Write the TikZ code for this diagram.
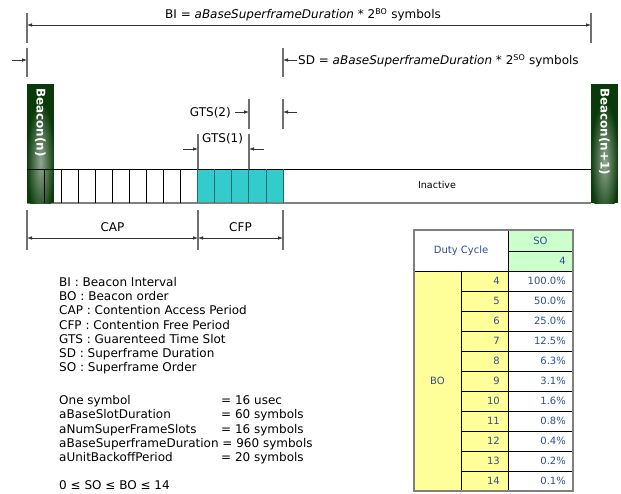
\documentclass[tikz,border=0pt]{standalone}
\usepackage{fontspec}
\setmainfont{DejaVu Sans}
\usetikzlibrary{arrows.meta}
\definecolor{tickgray}{HTML}{707070}
\definecolor{arrowgray}{HTML}{333333}
\definecolor{beacondark}{HTML}{0A3A0A}
\definecolor{beaconglow}{HTML}{8FA88F}
\definecolor{cfpcyan}{HTML}{33CCCC}
\definecolor{cfpedge}{HTML}{1E6E6E}
\definecolor{tabyellow}{HTML}{FFFF99}
\definecolor{tabgreen}{HTML}{CCFFCC}
\definecolor{tabblue}{HTML}{2F4F8F}
\definecolor{tabline}{HTML}{808080}
\tikzset{
  tickline/.style={draw=tickgray, line width=1.1pt},
  dimboth/.style={draw=arrowgray, line width=0.8pt, {Latex[length=5pt,width=3.6pt]}-{Latex[length=5pt,width=3.6pt]}},
  dimone/.style={draw=arrowgray, line width=0.8pt, -{Latex[length=5pt,width=3.6pt]}},
  lbl/.style={inner sep=0pt, anchor=base, text=black},
  legend/.style={inner sep=0pt, anchor=base west, text=black},
  beacontxt/.style={inner sep=0pt, rotate=-90, anchor=west, text=white, font=\fontsize{12}{14}\selectfont\bfseries},
  tabtxt/.style={inner sep=0pt, text=tabblue, font=\fontsize{10}{12}\selectfont},
  slotline/.style={draw=black, line width=0.7pt},
}
\begin{document}
\begin{tikzpicture}[x=1pt,y=-1pt,font=\fontsize{12}{14}\selectfont]
\useasboundingbox[fill=white] (0,0) rectangle (621,493);

% ---------------- top dimension (BI) ----------------
\coordinate (biLt) at (27,13);  \coordinate (biLb) at (27,43);
\coordinate (biRt) at (591,13); \coordinate (biRb) at (591,43);
\draw[tickline] (biLt) -- (biLb);
\draw[tickline] (biRt) -- (biRb);
\coordinate (biA) at (27,25); \coordinate (biB) at (591,25);
\draw[dimboth] (biA) -- (biB);
\node[lbl, anchor=base west] (bitext) at (165,18.5) {BI = \textit{aBaseSuperframeDuration} * 2\textsuperscript{BO} symbols};

% ---------------- SD dimension ----------------
\coordinate (sdLt) at (27,48);  \coordinate (sdLb) at (27,77);
\coordinate (sdRt) at (283,48); \coordinate (sdRb) at (283,77);
\draw[tickline] (sdLt) -- (sdLb);
\draw[tickline] (sdRt) -- (sdRb);
\coordinate (sdA0) at (12,60);  \coordinate (sdA1) at (27,60);
\coordinate (sdB0) at (297,60); \coordinate (sdB1) at (283,60);
\draw[dimone] (sdA0) -- (sdA1);
\draw[dimone] (sdB0) -- (sdB1);
\node[lbl, anchor=base west] (sdtext) at (298,64.5) {SD = \textit{aBaseSuperframeDuration} * 2\textsuperscript{SO} symbols};

% ---------------- GTS(2) ----------------
\coordinate (g2Lt) at (249,99);  \coordinate (g2Lb) at (249,129);
\coordinate (g2Rt) at (283,99);  \coordinate (g2Rb) at (283,129);
\draw[tickline] (g2Lt) -- (g2Lb);
\draw[tickline] (g2Rt) -- (g2Rb);
\coordinate (g2A0) at (235,112); \coordinate (g2A1) at (249,112);
\coordinate (g2B0) at (297,112); \coordinate (g2B1) at (283,112);
\draw[dimone] (g2A0) -- (g2A1);
\draw[dimone] (g2B0) -- (g2B1);
\node[lbl, anchor=base east] (gts2) at (231,116.5) {GTS(2)};

% ---------------- GTS(1) ----------------
\coordinate (g1Lt) at (198,134);  \coordinate (g1Lb) at (198,169);
\coordinate (g1Rt) at (249,134);  \coordinate (g1Rb) at (249,169);
\draw[tickline] (g1Lt) -- (g1Lb);
\draw[tickline] (g1Rt) -- (g1Rb);
\coordinate (g1A0) at (183,149); \coordinate (g1A1) at (198,149);
\coordinate (g1B0) at (264,149); \coordinate (g1B1) at (249,149);
\draw[dimone] (g1A0) -- (g1A1);
\draw[dimone] (g1B0) -- (g1B1);
\node[lbl, anchor=base west] (gts1) at (202,142.5) {GTS(1)};

% ---------------- slot row ----------------
\pgfmathsetmacro{\sw}{256/15}
\fill[cfpcyan] ({27+10*\sw},169) rectangle (283,203);
\draw[line width=0.8pt, draw=black] (27,169) -- (591,169);
\draw[line width=1.2pt, draw=tabline] (27,203) -- (591,203);
\foreach \k in {1,...,15}{
  \pgfmathsetmacro{\xx}{27+\k*\sw}
  \ifnum\k>9
    \draw[draw=cfpedge, line width=0.8pt] (\xx,169) -- (\xx,203);
  \else
    \draw[slotline] (\xx,169) -- (\xx,203);
  \fi
}
\node[inner sep=0pt, anchor=base, font=\fontsize{9.5}{11}\selectfont] (inactive) at (437,188.5) {Inactive};

% ---------------- beacons ----------------
\fill[beacondark] (27,84) rectangle (54,203);
\begin{scope}
  \clip (27,84) rectangle (54,203);
  \shade[inner color=beaconglow, outer color=beacondark] (40.5,162) ellipse (14 and 60);
\end{scope}
\draw[slotline] ({27+\sw},169) -- ({27+\sw},203);
\draw[line width=0.8pt, draw=black] (27,169) -- (54,169);
\node[beacontxt] (beaconn) at (40.5,88) {Beacon(n)};

\fill[beacondark] (591,84) rectangle (618,203);
\begin{scope}
  \clip (591,84) rectangle (618,203);
  \shade[inner color=beaconglow, outer color=beacondark] (604.5,162) ellipse (14 and 60);
\end{scope}
\node[beacontxt] (beaconn1) at (604.5,88) {Beacon(n+1)};

% ---------------- CAP / CFP dimension ----------------
\coordinate (c0t) at (27,210);  \coordinate (c0b) at (27,250);
\coordinate (c1t) at (198,210); \coordinate (c1b) at (198,250);
\coordinate (c2t) at (283,210); \coordinate (c2b) at (283,250);
\draw[tickline] (c0t) -- (c0b);
\draw[tickline] (c1t) -- (c1b);
\draw[tickline] (c2t) -- (c2b);
\coordinate (capA) at (27,238);  \coordinate (capB) at (198,238);
\coordinate (cfpB) at (283,238);
\draw[dimboth] (capA) -- (capB);
\draw[dimboth] (capB) -- (cfpB);
\node[lbl] (cap) at (112.5,231.5) {CAP};
\node[lbl] (cfp) at (240.5,231.5) {CFP};

% ---------------- legend ----------------
\node[legend] (l1) at (59,286.5) {BI : Beacon Interval};
\node[legend] (l2) at (59,300.7) {BO : Beacon order};
\node[legend] (l3) at (59,314.9) {CAP : Contention Access Period};
\node[legend] (l4) at (59,329.1) {CFP : Contention Free Period};
\node[legend] (l5) at (59,343.3) {GTS : Guarenteed Time Slot};
\node[legend] (l6) at (59,357.5) {SD : Superframe Duration};
\node[legend] (l7) at (59,371.7) {SO : Superframe Order};

\node[legend] (p1) at (59,404.5) {One symbol};
\node[legend] (p1v) at (221,404.5) {= 16 usec};
\node[legend] (p2) at (59,418.7) {aBaseSlotDuration};
\node[legend] (p2v) at (221,418.7) {= 60 symbols};
\node[legend] (p3) at (59,433) {aNumSuperFrameSlots};
\node[legend] (p3v) at (221,433) {= 16 symbols};
\node[legend] (p4) at (59,447.2) {aBaseSuperframeDuration = 960 symbols};
\node[legend] (p5) at (59,461.5) {aUnitBackoffPeriod};
\node[legend] (p5v) at (221,461.5) {= 20 symbols};

\node[legend] (rng) at (59,489.5) {0 ≤ SO ≤ BO ≤ 14};

% ---------------- table ----------------
\fill[white] (414,230) rectangle (508,271);
\fill[tabgreen] (508,230) rectangle (573,271);
\fill[tabyellow] (414,271) rectangle (508,491);
\fill[white] (508,271) rectangle (573,491);
\foreach \r in {1,...,10}{
  \draw[draw=black, line width=0.6pt] (461,{271+20*\r}) -- (573,{271+20*\r});
}
\draw[draw=black, line width=0.6pt] (508,251) -- (573,251);
\draw[draw=black, line width=0.8pt] (414,271) -- (573,271);
\draw[draw=black, line width=0.8pt] (461,271) -- (461,491);
\draw[draw=black, line width=1pt] (508,230) -- (508,491);
\draw[draw=tabline, line width=1.4pt] (414,230) rectangle (573,491);

\node[tabtxt] (duty) at (461,251) {Duty Cycle};
\node[tabtxt, anchor=base] (so) at (540.5,244.6) {SO};
\node[tabtxt, anchor=base east] (so4) at (566,264.6) {4};
\node[tabtxt, anchor=base] (bo) at (437.5,384.6) {BO};
\foreach \n/\v [count=\i from 0] in {4/100.0\%,5/50.0\%,6/25.0\%,7/12.5\%,8/6.3\%,9/3.1\%,10/1.6\%,11/0.8\%,12/0.4\%,13/0.2\%,14/0.1\%}{
  \node[tabtxt, anchor=base east] (bon\i) at (500,{284.6+20*\i}) {\n};
  \node[tabtxt, anchor=base east] (val\i) at (566,{284.6+20*\i}) {\v};
}
\end{tikzpicture}
\end{document}
